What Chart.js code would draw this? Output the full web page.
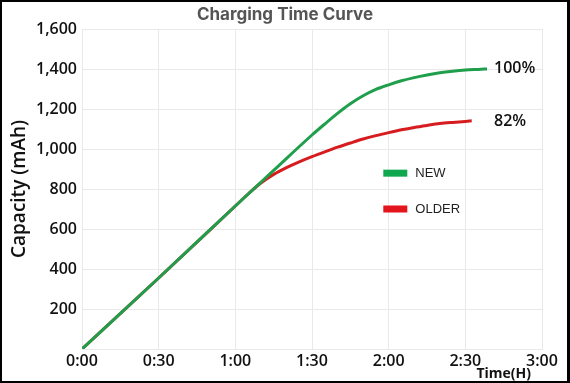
<!DOCTYPE html>
<html>
<head>
<meta charset="utf-8">
<script src="https://cdn.jsdelivr.net/npm/chart.js@4/dist/chart.umd.min.js"></script>
<style>
  html,body{margin:0;padding:0;background:#fff;}
  #wrap{position:relative;width:570px;height:383px;overflow:hidden;}
  #c{position:absolute;left:0;top:0;}
  #frame{position:absolute;left:0;top:0;width:570px;height:383px;box-sizing:border-box;
         border-style:solid;border-color:#000;border-width:2px 3px 2px 2px;pointer-events:none;}
</style>
</head>
<body>
<div id="wrap">
  <canvas id="c" width="570" height="383"></canvas>
  <div id="frame"></div>
</div>
<script>
const chartTitle = "Charging Time Curve";
const yAxisTitle = "Capacity (mAh)";
const xAxisTitle = "Time(H)";
const seriesNames = ["NEW", "OLDER"];
const endLabels = ["100%", "82%"];

// time in minutes
const newTimes  = [0, 30, 60, 75, 90, 95, 100, 105, 110, 115, 120, 125, 130, 135, 140, 145, 150, 155, 158.5];
const newValues = [0, 355, 715, 893, 1070, 1125, 1178, 1226, 1266, 1298, 1321, 1341, 1357, 1370, 1381, 1389, 1395, 1398, 1400];

const oldTimes  = [0, 30, 60, 65, 70, 75, 80, 85, 90, 95, 100, 105, 110, 115, 120, 125, 130, 135, 140, 145, 150, 152.5];
const oldValues = [0, 355, 715, 775, 830, 873, 907, 936, 962, 986, 1009, 1030, 1050, 1067, 1082, 1096, 1108, 1118, 1127, 1133, 1138, 1141];

const xTickValues = [0, 30, 60, 90, 120, 150, 180];
const xTickLabels = ["0:00", "0:30", "1:00", "1:30", "2:00", "2:30", "3:00"];

const GREEN = "#1f9e4b";
const RED = "#d61c1f";
const LEG_GREEN = "#10a84f";
const LEG_RED = "#e3141b";

const toPts = (t, v) => t.map((x, i) => ({x: x, y: v[i]}));

const overlay = {
  id: "overlay",
  afterDatasetsDraw(chart) {
    const ctx = chart.ctx, a = chart.chartArea;
    const xs = chart.scales.x, ys = chart.scales.y;
    ctx.save();
    // title
    ctx.font = "700 17px Inter";
    ctx.fillStyle = "#555";
    ctx.textAlign = "center";
    ctx.textBaseline = "middle";
    ctx.fillText(chartTitle, chart.width / 2, 15);
    // end labels
    ctx.font = "600 16px 'Open Sans'";
    ctx.fillStyle = "#111";
    ctx.textAlign = "left";
    const lx = xs.getPixelForValue(newTimes[newTimes.length - 1]) + 7;
    ctx.fillText(endLabels[0], lx, ys.getPixelForValue(newValues[newValues.length - 1]) - 0.5);
    ctx.fillText(endLabels[1], lx, ys.getPixelForValue(oldValues[oldValues.length - 1]) + 0.5);
    // legend
    const bx = a.left + (a.right - a.left) * 0.655;
    const by1 = a.top + (a.bottom - a.top) * 0.4505;
    const by2 = a.top + (a.bottom - a.top) * 0.5625;
    ctx.fillStyle = LEG_GREEN;
    ctx.fillRect(bx, by1 - 3.5, 24, 7);
    ctx.fillStyle = LEG_RED;
    ctx.fillRect(bx, by2 - 3.5, 24, 7);
    ctx.font = "13px 'Liberation Sans'";
    ctx.fillStyle = "#222";
    ctx.fillText(seriesNames[0], bx + 32, by1);
    ctx.fillText(seriesNames[1], bx + 32, by2);
    // x axis title
    ctx.font = "bold 14px 'Open Sans'";
    ctx.fillStyle = "#111";
    ctx.textAlign = "right";
    ctx.fillText(xAxisTitle, a.right - 11, a.bottom + 25);
    ctx.restore();
  }
};

new Chart(document.getElementById("c"), {
  type: "line",
  data: {
    datasets: [
      {label: seriesNames[0], data: toPts(newTimes, newValues), borderColor: GREEN, borderWidth: 3,
       pointRadius: 0, cubicInterpolationMode: "monotone", fill: false},
      {label: seriesNames[1], data: toPts(oldTimes, oldValues), borderColor: RED, borderWidth: 3,
       pointRadius: 0, cubicInterpolationMode: "monotone", fill: false}
    ]
  },
  options: {
    responsive: false,
    animation: false,
    devicePixelRatio: 1,
    layout: {padding: {left: 0, right: 28, top: 29, bottom: 0}},
    plugins: {
      legend: {display: false},
      tooltip: {enabled: false},
      title: {display: false}
    },
    scales: {
      x: {
        type: "linear", min: 0, max: 180,
        afterBuildTicks: s => { s.ticks = xTickValues.map(v => ({value: v})); },
        afterFit: s => { s.height = 34; },
        ticks: {
          callback: v => xTickLabels[xTickValues.indexOf(v)],
          color: "#111", font: {family: "Open Sans", size: 16, weight: "600"}, padding: 3, maxRotation: 0, autoSkip: false
        },
        grid: {color: "#e9e9e9", drawTicks: false, lineWidth: 1},
        border: {display: true, color: "#e9e9e9"}
      },
      y: {
        min: 0, max: 1600,
        afterFit: s => { s.width = 82; },
        ticks: {
          stepSize: 200,
          callback: v => v === 0 ? "" : v.toLocaleString("en-US"),
          color: "#111", font: {family: "Open Sans", size: 16, weight: "600"}, padding: 5
        },
        title: {
          display: true, text: yAxisTitle, color: "#111",
          font: {family: "Open Sans", size: 19, weight: "600"}, padding: {top: 8, bottom: 0}
        },
        grid: {color: "#e9e9e9", drawTicks: false, lineWidth: 1},
        border: {display: true, color: "#e9e9e9"}
      }
    }
  },
  plugins: [overlay]
});
</script>
</body>
</html>
